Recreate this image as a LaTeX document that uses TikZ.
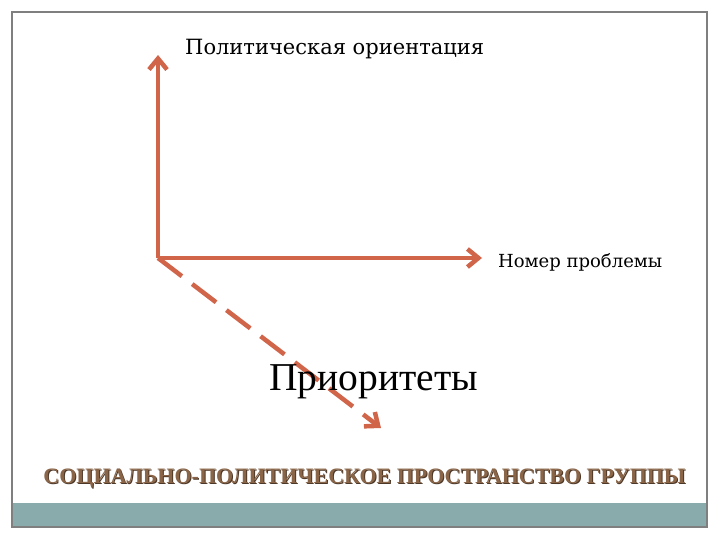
\documentclass[tikz,border=0pt]{standalone}
\usepackage{fontspec}
\setmainfont{Liberation Serif}
\newfontfamily\camb{DejaVu Serif}
\usetikzlibrary{arrows.meta}
\definecolor{arr}{HTML}{D0654A}
\definecolor{bar}{HTML}{8AABAB}
\definecolor{frame}{HTML}{7F7F7F}
\definecolor{ttl}{HTML}{8A6548}
\tikzset{
  axis/.style={arr, line width=4.5pt, -{Straight Barb[length=11pt,width=18pt,line width=4.5pt]}},
  lbl/.style={inner sep=0pt, text=black},
  ttlfont/.style={font=\bfseries\fontsize{22}{26}\selectfont},
}
\begin{document}
\begin{tikzpicture}[x=1pt,y=-1pt]
\useasboundingbox (0,0) rectangle (720,540);
\fill[white] (0,0) rectangle (720,540);
\fill[bar] (12,503) rectangle (707,527);
\draw[frame, line width=1.2pt] (12,12) rectangle (707,527);
\coordinate (O) at (158,258);
\coordinate (Top) at (158,55);
\coordinate (Right) at (482,258);
\coordinate (Diag) at (381,428);
\draw[axis] (O) -- (Top);
\draw[axis] (O) -- (Right);
\draw[axis, dash pattern=on 30pt off 13pt] (O) -- (Diag);
\node[lbl, anchor=base west, font=\camb\fontsize{21}{24}\selectfont] (pol) at (185,55) {Политическая ориентация};
\node[lbl, anchor=base west, font=\camb\fontsize{18}{21}\selectfont] (nom) at (498,267) {Номер проблемы};
\node[lbl, anchor=base west, font=\fontsize{39.5}{44}\selectfont] (pri) at (269,390) {Приоритеты};
\node[lbl, anchor=base, text=ttl!55!black, ttlfont] at (365.5,484) {СОЦИАЛЬНО-ПОЛИТИЧЕСКОЕ ПРОСТРАНСТВО ГРУППЫ};
\node[lbl, anchor=base, text=ttl, ttlfont] (title) at (364.5,483) {СОЦИАЛЬНО-ПОЛИТИЧЕСКОЕ ПРОСТРАНСТВО ГРУППЫ};
\end{tikzpicture}
\end{document}
